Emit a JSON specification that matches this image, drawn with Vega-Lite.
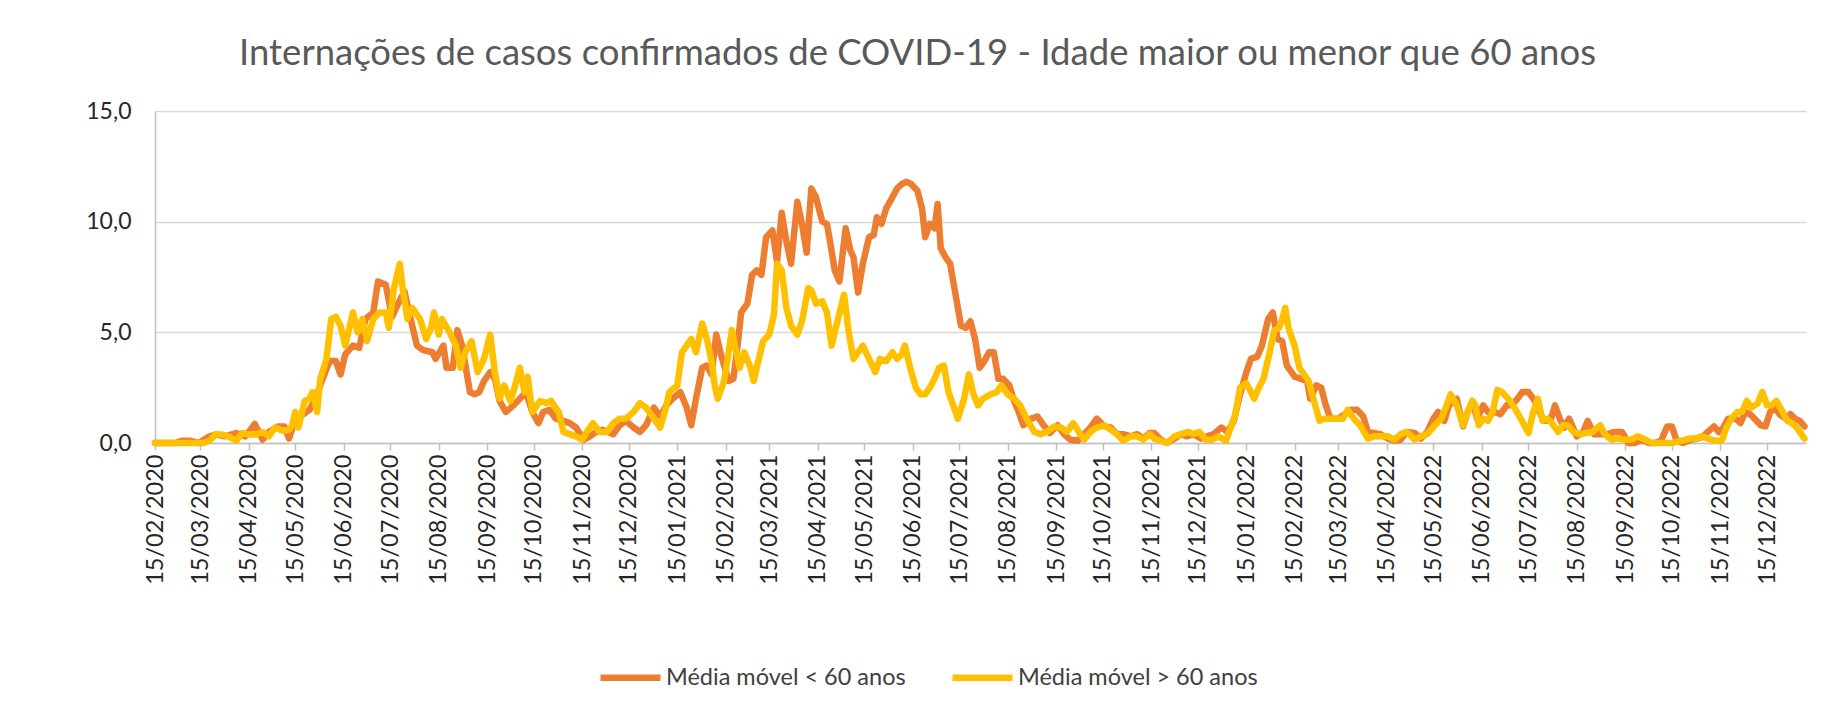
{
  "$schema": "https://vega.github.io/schema/vega-lite/v6.json",
  "width": 1651,
  "height": 332,
  "autosize": {"type": "none"},
  "padding": {"left": 155, "top": 111, "right": 29, "bottom": 272},
  "background": "white",
  "title": {
    "text": "Internações de casos confirmados de COVID-19 - Idade maior ou menor que 60 anos",
    "font": "Lato",
    "fontSize": 36.5,
    "fontWeight": "normal",
    "color": "#595959",
    "anchor": "middle",
    "dx": -63,
    "offset": 28
  },
  "datasets": {
    "a": [
      {"d":"2020-02-15","v":0},{"d":"2020-02-28","v":0},{"d":"2020-03-03","v":0.1},{"d":"2020-03-08","v":0.1},{"d":"2020-03-14","v":0},
      {"d":"2020-03-21","v":0.3},{"d":"2020-03-25","v":0.38},{"d":"2020-03-31","v":0.3},{"d":"2020-04-07","v":0.45},{"d":"2020-04-13","v":0.3},
      {"d":"2020-04-19","v":0.86},{"d":"2020-04-24","v":0.15},{"d":"2020-04-28","v":0.5},{"d":"2020-05-04","v":0.75},{"d":"2020-05-08","v":0.75},
      {"d":"2020-05-11","v":0.2},{"d":"2020-05-15","v":1.1},{"d":"2020-05-20","v":1.3},{"d":"2020-05-24","v":1.5},{"d":"2020-05-28","v":2.0},
      {"d":"2020-06-01","v":2.8},{"d":"2020-06-06","v":3.7},{"d":"2020-06-10","v":3.7},{"d":"2020-06-13","v":3.1},{"d":"2020-06-16","v":4.0},
      {"d":"2020-06-21","v":4.4},{"d":"2020-06-25","v":4.3},{"d":"2020-06-29","v":5.6},{"d":"2020-07-04","v":5.9},{"d":"2020-07-07","v":7.3},
      {"d":"2020-07-12","v":7.15},{"d":"2020-07-16","v":5.7},{"d":"2020-07-20","v":6.3},{"d":"2020-07-24","v":6.85},{"d":"2020-07-29","v":5.3},
      {"d":"2020-08-01","v":4.4},{"d":"2020-08-05","v":4.2},{"d":"2020-08-11","v":4.1},{"d":"2020-08-13","v":3.8},{"d":"2020-08-18","v":4.4},
      {"d":"2020-08-20","v":3.4},{"d":"2020-08-24","v":3.4},{"d":"2020-08-27","v":5.1},{"d":"2020-08-30","v":4.4},{"d":"2020-09-04","v":2.3},
      {"d":"2020-09-07","v":2.2},{"d":"2020-09-10","v":2.3},{"d":"2020-09-13","v":2.8},{"d":"2020-09-17","v":3.2},{"d":"2020-09-20","v":2.9},
      {"d":"2020-09-23","v":1.9},{"d":"2020-09-27","v":1.4},{"d":"2020-10-02","v":1.7},{"d":"2020-10-06","v":2.0},{"d":"2020-10-10","v":2.3},
      {"d":"2020-10-14","v":1.4},{"d":"2020-10-18","v":0.9},{"d":"2020-10-21","v":1.4},{"d":"2020-10-25","v":1.5},{"d":"2020-10-29","v":1.1},
      {"d":"2020-11-03","v":1.0},{"d":"2020-11-07","v":0.9},{"d":"2020-11-11","v":0.7},{"d":"2020-11-16","v":0.15},{"d":"2020-11-20","v":0.3},
      {"d":"2020-11-24","v":0.5},{"d":"2020-11-28","v":0.6},{"d":"2020-12-05","v":0.4},{"d":"2020-12-09","v":0.8},{"d":"2020-12-13","v":1.0},
      {"d":"2020-12-18","v":0.7},{"d":"2020-12-22","v":0.5},{"d":"2020-12-26","v":0.8},{"d":"2020-12-31","v":1.6},{"d":"2021-01-04","v":1.2},
      {"d":"2021-01-08","v":1.7},{"d":"2021-01-12","v":2.0},{"d":"2021-01-17","v":2.3},{"d":"2021-01-21","v":1.6},{"d":"2021-01-24","v":0.8},
      {"d":"2021-01-27","v":2.0},{"d":"2021-01-31","v":3.4},{"d":"2021-02-03","v":3.5},{"d":"2021-02-06","v":3.1},{"d":"2021-02-09","v":4.9},
      {"d":"2021-02-12","v":4.0},{"d":"2021-02-17","v":2.8},{"d":"2021-02-20","v":2.9},{"d":"2021-02-23","v":4.6},{"d":"2021-02-25","v":5.9},
      {"d":"2021-03-01","v":6.3},{"d":"2021-03-04","v":7.6},{"d":"2021-03-07","v":7.8},{"d":"2021-03-10","v":7.6},{"d":"2021-03-13","v":9.3},
      {"d":"2021-03-17","v":9.6},{"d":"2021-03-20","v":8.2},{"d":"2021-03-23","v":10.4},{"d":"2021-03-26","v":9.1},{"d":"2021-03-29","v":8.1},
      {"d":"2021-04-02","v":10.9},{"d":"2021-04-05","v":9.9},{"d":"2021-04-08","v":8.6},{"d":"2021-04-11","v":11.5},{"d":"2021-04-14","v":11.1},
      {"d":"2021-04-18","v":10.0},{"d":"2021-04-21","v":9.9},{"d":"2021-04-23","v":9.1},{"d":"2021-04-26","v":7.8},{"d":"2021-04-29","v":7.3},
      {"d":"2021-05-03","v":9.7},{"d":"2021-05-06","v":8.7},{"d":"2021-05-08","v":8.4},{"d":"2021-05-11","v":6.8},{"d":"2021-05-14","v":8.1},
      {"d":"2021-05-18","v":9.3},{"d":"2021-05-21","v":9.4},{"d":"2021-05-23","v":10.2},{"d":"2021-05-26","v":9.9},{"d":"2021-05-29","v":10.6},
      {"d":"2021-06-02","v":11.1},{"d":"2021-06-05","v":11.5},{"d":"2021-06-08","v":11.7},{"d":"2021-06-11","v":11.8},{"d":"2021-06-14","v":11.7},
      {"d":"2021-06-18","v":11.4},{"d":"2021-06-21","v":10.6},{"d":"2021-06-23","v":9.3},{"d":"2021-06-26","v":9.9},{"d":"2021-06-29","v":9.7},
      {"d":"2021-07-01","v":10.8},{"d":"2021-07-03","v":8.8},{"d":"2021-07-06","v":8.4},{"d":"2021-07-09","v":8.1},{"d":"2021-07-12","v":6.9},
      {"d":"2021-07-16","v":5.3},{"d":"2021-07-19","v":5.2},{"d":"2021-07-22","v":5.5},{"d":"2021-07-25","v":4.7},{"d":"2021-07-28","v":3.4},
      {"d":"2021-07-31","v":3.7},{"d":"2021-08-03","v":4.1},{"d":"2021-08-06","v":4.1},{"d":"2021-08-09","v":2.9},{"d":"2021-08-12","v":2.9},
      {"d":"2021-08-16","v":2.6},{"d":"2021-08-19","v":1.9},{"d":"2021-08-22","v":1.4},{"d":"2021-08-25","v":0.8},{"d":"2021-08-30","v":1.1},
      {"d":"2021-09-03","v":1.2},{"d":"2021-09-07","v":0.8},{"d":"2021-09-11","v":0.45},{"d":"2021-09-16","v":0.8},{"d":"2021-09-20","v":0.4},
      {"d":"2021-09-24","v":0.15},{"d":"2021-09-29","v":0.1},{"d":"2021-10-03","v":0.4},{"d":"2021-10-07","v":0.7},{"d":"2021-10-11","v":1.1},
      {"d":"2021-10-16","v":0.75},{"d":"2021-10-20","v":0.7},{"d":"2021-10-24","v":0.4},{"d":"2021-10-28","v":0.4},{"d":"2021-11-02","v":0.3},
      {"d":"2021-11-06","v":0.4},{"d":"2021-11-10","v":0.2},{"d":"2021-11-14","v":0.45},{"d":"2021-11-17","v":0.45},{"d":"2021-11-21","v":0.15},
      {"d":"2021-11-25","v":0},{"d":"2021-11-30","v":0.2},{"d":"2021-12-04","v":0.4},{"d":"2021-12-08","v":0.3},{"d":"2021-12-12","v":0.4},
      {"d":"2021-12-17","v":0.2},{"d":"2021-12-21","v":0.3},{"d":"2021-12-25","v":0.4},{"d":"2021-12-30","v":0.7},{"d":"2022-01-03","v":0.5},
      {"d":"2022-01-07","v":1.0},{"d":"2022-01-11","v":2.2},{"d":"2022-01-15","v":3.2},{"d":"2022-01-18","v":3.8},{"d":"2022-01-22","v":3.9},
      {"d":"2022-01-25","v":4.4},{"d":"2022-01-29","v":5.6},{"d":"2022-02-01","v":5.9},{"d":"2022-02-04","v":4.7},{"d":"2022-02-07","v":4.6},
      {"d":"2022-02-10","v":3.5},{"d":"2022-02-15","v":3.0},{"d":"2022-02-19","v":2.9},{"d":"2022-02-23","v":2.8},{"d":"2022-02-25","v":2.0},
      {"d":"2022-03-01","v":2.6},{"d":"2022-03-04","v":2.5},{"d":"2022-03-07","v":1.7},{"d":"2022-03-10","v":1.1},{"d":"2022-03-15","v":1.1},
      {"d":"2022-03-19","v":1.3},{"d":"2022-03-23","v":1.5},{"d":"2022-03-27","v":1.5},{"d":"2022-03-31","v":1.2},{"d":"2022-04-03","v":0.5},
      {"d":"2022-04-07","v":0.45},{"d":"2022-04-11","v":0.4},{"d":"2022-04-16","v":0.2},{"d":"2022-04-20","v":0.1},{"d":"2022-04-24","v":0.15},
      {"d":"2022-04-28","v":0.5},{"d":"2022-05-03","v":0.45},{"d":"2022-05-07","v":0.2},{"d":"2022-05-11","v":0.5},{"d":"2022-05-15","v":1.1},
      {"d":"2022-05-18","v":1.4},{"d":"2022-05-22","v":1.0},{"d":"2022-05-25","v":1.7},{"d":"2022-05-30","v":2.0},{"d":"2022-06-03","v":0.75},
      {"d":"2022-06-06","v":1.4},{"d":"2022-06-09","v":1.9},{"d":"2022-06-12","v":1.1},{"d":"2022-06-16","v":1.7},{"d":"2022-06-19","v":1.4},
      {"d":"2022-06-23","v":1.4},{"d":"2022-06-27","v":1.3},{"d":"2022-07-01","v":1.7},{"d":"2022-07-04","v":1.7},{"d":"2022-07-08","v":2.0},
      {"d":"2022-07-11","v":2.3},{"d":"2022-07-15","v":2.3},{"d":"2022-07-19","v":1.9},{"d":"2022-07-22","v":1.4},{"d":"2022-07-25","v":1.0},
      {"d":"2022-07-29","v":1.0},{"d":"2022-08-01","v":1.7},{"d":"2022-08-04","v":1.1},{"d":"2022-08-07","v":0.7},{"d":"2022-08-10","v":1.1},
      {"d":"2022-08-15","v":0.3},{"d":"2022-08-19","v":0.5},{"d":"2022-08-22","v":1.0},{"d":"2022-08-26","v":0.4},{"d":"2022-08-31","v":0.4},
      {"d":"2022-09-04","v":0.4},{"d":"2022-09-08","v":0.5},{"d":"2022-09-13","v":0.5},{"d":"2022-09-17","v":0},{"d":"2022-09-21","v":0},
      {"d":"2022-09-26","v":0.15},{"d":"2022-09-30","v":0},{"d":"2022-10-04","v":0},{"d":"2022-10-08","v":0.1},{"d":"2022-10-12","v":0.75},
      {"d":"2022-10-15","v":0.75},{"d":"2022-10-18","v":0.1},{"d":"2022-10-22","v":0},{"d":"2022-10-27","v":0.15},{"d":"2022-10-31","v":0.2},
      {"d":"2022-11-04","v":0.3},{"d":"2022-11-07","v":0.5},{"d":"2022-11-11","v":0.75},{"d":"2022-11-14","v":0.5},{"d":"2022-11-17","v":0.7},
      {"d":"2022-11-20","v":1.1},{"d":"2022-11-25","v":1.1},{"d":"2022-11-28","v":0.9},{"d":"2022-12-01","v":1.4},{"d":"2022-12-04","v":1.3},
      {"d":"2022-12-07","v":1.1},{"d":"2022-12-11","v":0.8},{"d":"2022-12-14","v":0.75},{"d":"2022-12-17","v":1.4},{"d":"2022-12-20","v":1.6},
      {"d":"2022-12-23","v":1.3},{"d":"2022-12-27","v":1.1},{"d":"2022-12-30","v":1.3},{"d":"2023-01-02","v":1.1},{"d":"2023-01-05","v":1.0},
      {"d":"2023-01-08","v":0.75}
    ],
    "b": [
      {"d":"2020-02-15","v":0},{"d":"2020-03-17","v":0},{"d":"2020-03-21","v":0.1},{"d":"2020-03-25","v":0.4},{"d":"2020-03-29","v":0.38},
      {"d":"2020-04-02","v":0.3},{"d":"2020-04-07","v":0.1},{"d":"2020-04-11","v":0.45},{"d":"2020-04-15","v":0.38},{"d":"2020-04-20","v":0.38},
      {"d":"2020-04-24","v":0.5},{"d":"2020-04-28","v":0.3},{"d":"2020-05-02","v":0.7},{"d":"2020-05-07","v":0.55},{"d":"2020-05-11","v":0.6},
      {"d":"2020-05-13","v":0.8},{"d":"2020-05-15","v":1.4},{"d":"2020-05-17","v":0.7},{"d":"2020-05-21","v":1.9},{"d":"2020-05-24","v":2.0},
      {"d":"2020-05-26","v":2.3},{"d":"2020-05-29","v":1.4},{"d":"2020-05-31","v":2.9},{"d":"2020-06-04","v":3.8},{"d":"2020-06-07","v":5.6},
      {"d":"2020-06-10","v":5.7},{"d":"2020-06-13","v":5.3},{"d":"2020-06-16","v":4.4},{"d":"2020-06-21","v":5.9},{"d":"2020-06-24","v":5.0},
      {"d":"2020-06-27","v":5.6},{"d":"2020-06-30","v":4.6},{"d":"2020-07-04","v":5.6},{"d":"2020-07-08","v":5.9},{"d":"2020-07-12","v":5.9},
      {"d":"2020-07-14","v":5.2},{"d":"2020-07-17","v":6.9},{"d":"2020-07-21","v":8.1},{"d":"2020-07-23","v":6.9},{"d":"2020-07-26","v":5.6},
      {"d":"2020-07-29","v":6.1},{"d":"2020-08-03","v":5.6},{"d":"2020-08-07","v":4.7},{"d":"2020-08-10","v":5.2},{"d":"2020-08-12","v":5.9},
      {"d":"2020-08-15","v":4.9},{"d":"2020-08-17","v":5.6},{"d":"2020-08-22","v":5.0},{"d":"2020-08-26","v":4.4},{"d":"2020-08-29","v":3.4},
      {"d":"2020-09-01","v":4.1},{"d":"2020-09-05","v":4.6},{"d":"2020-09-09","v":3.2},{"d":"2020-09-13","v":3.8},{"d":"2020-09-17","v":4.9},
      {"d":"2020-09-20","v":3.2},{"d":"2020-09-23","v":2.0},{"d":"2020-09-26","v":2.6},{"d":"2020-09-30","v":1.9},{"d":"2020-10-03","v":2.6},
      {"d":"2020-10-06","v":3.4},{"d":"2020-10-09","v":2.3},{"d":"2020-10-11","v":3.0},{"d":"2020-10-14","v":1.4},{"d":"2020-10-19","v":1.9},
      {"d":"2020-10-23","v":1.8},{"d":"2020-10-26","v":1.9},{"d":"2020-10-31","v":1.4},{"d":"2020-11-03","v":0.5},{"d":"2020-11-07","v":0.4},
      {"d":"2020-11-11","v":0.3},{"d":"2020-11-15","v":0.15},{"d":"2020-11-18","v":0.5},{"d":"2020-11-22","v":0.9},{"d":"2020-11-26","v":0.5},
      {"d":"2020-12-01","v":0.5},{"d":"2020-12-05","v":0.9},{"d":"2020-12-09","v":1.1},{"d":"2020-12-13","v":1.1},{"d":"2020-12-18","v":1.4},
      {"d":"2020-12-22","v":1.8},{"d":"2020-12-26","v":1.6},{"d":"2020-12-31","v":1.1},{"d":"2021-01-04","v":0.7},{"d":"2021-01-07","v":1.4},
      {"d":"2021-01-10","v":2.3},{"d":"2021-01-15","v":2.6},{"d":"2021-01-18","v":4.1},{"d":"2021-01-21","v":4.4},{"d":"2021-01-24","v":4.7},
      {"d":"2021-01-27","v":4.1},{"d":"2021-01-31","v":5.4},{"d":"2021-02-03","v":4.7},{"d":"2021-02-06","v":3.7},{"d":"2021-02-08","v":2.6},
      {"d":"2021-02-10","v":2.0},{"d":"2021-02-14","v":2.8},{"d":"2021-02-17","v":4.1},{"d":"2021-02-19","v":5.1},{"d":"2021-02-21","v":4.4},
      {"d":"2021-02-24","v":3.4},{"d":"2021-02-27","v":4.1},{"d":"2021-03-03","v":3.4},{"d":"2021-03-05","v":2.8},{"d":"2021-03-08","v":3.7},
      {"d":"2021-03-11","v":4.6},{"d":"2021-03-15","v":4.9},{"d":"2021-03-18","v":5.8},{"d":"2021-03-20","v":8.1},{"d":"2021-03-23","v":7.8},
      {"d":"2021-03-26","v":6.1},{"d":"2021-03-29","v":5.3},{"d":"2021-04-02","v":4.9},{"d":"2021-04-05","v":5.5},{"d":"2021-04-09","v":7.0},
      {"d":"2021-04-11","v":6.9},{"d":"2021-04-14","v":6.3},{"d":"2021-04-18","v":6.4},{"d":"2021-04-21","v":5.9},{"d":"2021-04-24","v":4.4},
      {"d":"2021-04-27","v":5.3},{"d":"2021-05-02","v":6.7},{"d":"2021-05-05","v":5.0},{"d":"2021-05-08","v":3.8},{"d":"2021-05-11","v":4.1},
      {"d":"2021-05-14","v":4.4},{"d":"2021-05-18","v":3.8},{"d":"2021-05-22","v":3.2},{"d":"2021-05-25","v":3.8},{"d":"2021-05-29","v":3.7},
      {"d":"2021-06-02","v":4.1},{"d":"2021-06-05","v":3.8},{"d":"2021-06-08","v":4.0},{"d":"2021-06-10","v":4.4},{"d":"2021-06-13","v":3.5},
      {"d":"2021-06-17","v":2.5},{"d":"2021-06-20","v":2.2},{"d":"2021-06-23","v":2.2},{"d":"2021-06-26","v":2.5},{"d":"2021-06-29","v":2.9},
      {"d":"2021-07-02","v":3.4},{"d":"2021-07-05","v":3.5},{"d":"2021-07-08","v":2.3},{"d":"2021-07-11","v":1.7},{"d":"2021-07-14","v":1.1},
      {"d":"2021-07-18","v":2.0},{"d":"2021-07-21","v":3.1},{"d":"2021-07-24","v":2.2},{"d":"2021-07-27","v":1.7},{"d":"2021-07-30","v":2.0},
      {"d":"2021-08-04","v":2.2},{"d":"2021-08-08","v":2.3},{"d":"2021-08-11","v":2.6},{"d":"2021-08-15","v":2.2},{"d":"2021-08-19","v":2.0},
      {"d":"2021-08-23","v":1.7},{"d":"2021-08-27","v":1.1},{"d":"2021-09-01","v":0.5},{"d":"2021-09-05","v":0.4},{"d":"2021-09-09","v":0.5},
      {"d":"2021-09-14","v":0.75},{"d":"2021-09-18","v":0.7},{"d":"2021-09-22","v":0.5},{"d":"2021-09-26","v":0.9},{"d":"2021-09-30","v":0.45},
      {"d":"2021-10-03","v":0.15},{"d":"2021-10-07","v":0.5},{"d":"2021-10-11","v":0.7},{"d":"2021-10-16","v":0.8},{"d":"2021-10-20","v":0.6},
      {"d":"2021-10-24","v":0.4},{"d":"2021-10-28","v":0.1},{"d":"2021-11-02","v":0.3},{"d":"2021-11-06","v":0.3},{"d":"2021-11-10","v":0.15},
      {"d":"2021-11-14","v":0.4},{"d":"2021-11-17","v":0.2},{"d":"2021-11-21","v":0.1},{"d":"2021-11-25","v":0},{"d":"2021-11-30","v":0.3},
      {"d":"2021-12-04","v":0.4},{"d":"2021-12-09","v":0.5},{"d":"2021-12-12","v":0.4},{"d":"2021-12-16","v":0.5},{"d":"2021-12-20","v":0.15},
      {"d":"2021-12-24","v":0.15},{"d":"2021-12-28","v":0.3},{"d":"2022-01-02","v":0.1},{"d":"2022-01-05","v":0.7},{"d":"2022-01-08","v":1.3},
      {"d":"2022-01-11","v":2.5},{"d":"2022-01-15","v":2.7},{"d":"2022-01-18","v":2.3},{"d":"2022-01-20","v":2.0},{"d":"2022-01-23","v":2.5},
      {"d":"2022-01-26","v":2.9},{"d":"2022-01-30","v":4.1},{"d":"2022-02-02","v":5.1},{"d":"2022-02-05","v":5.2},{"d":"2022-02-07","v":5.6},
      {"d":"2022-02-09","v":6.1},{"d":"2022-02-11","v":5.2},{"d":"2022-02-15","v":4.4},{"d":"2022-02-18","v":3.4},{"d":"2022-02-21","v":3.1},
      {"d":"2022-02-24","v":2.8},{"d":"2022-02-27","v":2.0},{"d":"2022-03-03","v":1.0},{"d":"2022-03-06","v":1.1},{"d":"2022-03-10","v":1.1},
      {"d":"2022-03-15","v":1.1},{"d":"2022-03-18","v":1.1},{"d":"2022-03-21","v":1.5},{"d":"2022-03-25","v":1.1},{"d":"2022-03-29","v":0.8},
      {"d":"2022-04-03","v":0.2},{"d":"2022-04-07","v":0.3},{"d":"2022-04-11","v":0.3},{"d":"2022-04-16","v":0.3},{"d":"2022-04-20","v":0.15},
      {"d":"2022-04-24","v":0.4},{"d":"2022-04-28","v":0.5},{"d":"2022-05-03","v":0.15},{"d":"2022-05-07","v":0.3},{"d":"2022-05-11","v":0.4},
      {"d":"2022-05-16","v":0.8},{"d":"2022-05-20","v":1.1},{"d":"2022-05-23","v":1.6},{"d":"2022-05-26","v":2.2},{"d":"2022-05-30","v":1.7},
      {"d":"2022-06-03","v":0.8},{"d":"2022-06-06","v":1.4},{"d":"2022-06-09","v":1.9},{"d":"2022-06-11","v":1.7},{"d":"2022-06-13","v":0.8},
      {"d":"2022-06-16","v":1.1},{"d":"2022-06-19","v":1.0},{"d":"2022-06-22","v":1.4},{"d":"2022-06-25","v":2.4},{"d":"2022-06-28","v":2.3},
      {"d":"2022-07-02","v":2.0},{"d":"2022-07-06","v":1.6},{"d":"2022-07-10","v":1.1},{"d":"2022-07-15","v":0.45},{"d":"2022-07-18","v":1.4},
      {"d":"2022-07-21","v":2.0},{"d":"2022-07-24","v":1.0},{"d":"2022-07-27","v":1.1},{"d":"2022-07-30","v":0.9},{"d":"2022-08-03","v":0.5},
      {"d":"2022-08-06","v":0.8},{"d":"2022-08-09","v":0.8},{"d":"2022-08-13","v":0.5},{"d":"2022-08-17","v":0.4},{"d":"2022-08-21","v":0.45},
      {"d":"2022-08-25","v":0.5},{"d":"2022-08-30","v":0.8},{"d":"2022-09-02","v":0.4},{"d":"2022-09-06","v":0.15},{"d":"2022-09-10","v":0.2},
      {"d":"2022-09-15","v":0.15},{"d":"2022-09-19","v":0.15},{"d":"2022-09-23","v":0.3},{"d":"2022-09-28","v":0.15},{"d":"2022-10-02","v":0},
      {"d":"2022-10-08","v":0},{"d":"2022-10-15","v":0},{"d":"2022-10-21","v":0.1},{"d":"2022-10-26","v":0.2},{"d":"2022-10-30","v":0.2},
      {"d":"2022-11-03","v":0.3},{"d":"2022-11-07","v":0.2},{"d":"2022-11-12","v":0.1},{"d":"2022-11-16","v":0.1},{"d":"2022-11-19","v":0.7},
      {"d":"2022-11-22","v":1.1},{"d":"2022-11-26","v":1.4},{"d":"2022-11-29","v":1.4},{"d":"2022-12-02","v":1.9},{"d":"2022-12-05","v":1.6},
      {"d":"2022-12-09","v":1.8},{"d":"2022-12-12","v":2.3},{"d":"2022-12-15","v":1.7},{"d":"2022-12-18","v":1.7},{"d":"2022-12-21","v":1.9},
      {"d":"2022-12-25","v":1.4},{"d":"2022-12-28","v":1.0},{"d":"2022-12-31","v":0.9},{"d":"2023-01-03","v":0.7},{"d":"2023-01-06","v":0.4},
      {"d":"2023-01-08","v":0.2}
    ]
  },
  "encoding": {
    "x": {
      "field": "d",
      "type": "temporal",
      "scale": {
        "type": "utc",
        "domain": [{"year": 2020, "month": 2, "date": 15, "utc": true}, {"year": 2023, "month": 1, "date": 9, "utc": true}]
      },
      "axis": {
        "title": null,
        "values": [
          {"year":2020,"month":2,"date":15,"utc":true},{"year":2020,"month":3,"date":15,"utc":true},{"year":2020,"month":4,"date":15,"utc":true},
          {"year":2020,"month":5,"date":15,"utc":true},{"year":2020,"month":6,"date":15,"utc":true},{"year":2020,"month":7,"date":15,"utc":true},
          {"year":2020,"month":8,"date":15,"utc":true},{"year":2020,"month":9,"date":15,"utc":true},{"year":2020,"month":10,"date":15,"utc":true},
          {"year":2020,"month":11,"date":15,"utc":true},{"year":2020,"month":12,"date":15,"utc":true},{"year":2021,"month":1,"date":15,"utc":true},
          {"year":2021,"month":2,"date":15,"utc":true},{"year":2021,"month":3,"date":15,"utc":true},{"year":2021,"month":4,"date":15,"utc":true},
          {"year":2021,"month":5,"date":15,"utc":true},{"year":2021,"month":6,"date":15,"utc":true},{"year":2021,"month":7,"date":15,"utc":true},
          {"year":2021,"month":8,"date":15,"utc":true},{"year":2021,"month":9,"date":15,"utc":true},{"year":2021,"month":10,"date":15,"utc":true},
          {"year":2021,"month":11,"date":15,"utc":true},{"year":2021,"month":12,"date":15,"utc":true},{"year":2022,"month":1,"date":15,"utc":true},
          {"year":2022,"month":2,"date":15,"utc":true},{"year":2022,"month":3,"date":15,"utc":true},{"year":2022,"month":4,"date":15,"utc":true},
          {"year":2022,"month":5,"date":15,"utc":true},{"year":2022,"month":6,"date":15,"utc":true},{"year":2022,"month":7,"date":15,"utc":true},
          {"year":2022,"month":8,"date":15,"utc":true},{"year":2022,"month":9,"date":15,"utc":true},{"year":2022,"month":10,"date":15,"utc":true},
          {"year":2022,"month":11,"date":15,"utc":true},{"year":2022,"month":12,"date":15,"utc":true}
        ],
        "format": "%d/%m/%Y",
        "labelAngle": -90,
        "labelFont": "Lato",
        "labelFontSize": 23.5,
        "labelColor": "#262626",
        "labelPadding": 4,
        "labelOverlap": false,
        "labelFlush": false,
        "grid": false,
        "ticks": true,
        "tickSize": 7,
        "tickColor": "#BFBFBF",
        "tickWidth": 1.5,
        "domain": true,
        "domainColor": "#BFBFBF",
        "domainWidth": 1.5
      }
    },
    "y": {
      "field": "v",
      "type": "quantitative",
      "scale": {"domain": [0, 15], "nice": false},
      "axis": {
        "title": null,
        "values": [0, 5, 10, 15],
        "labelExpr": "replace(format(datum.value, '.1f'), '.', ',')",
        "labelFont": "Lato",
        "labelFontSize": 23,
        "labelColor": "#262626",
        "labelPadding": 24,
        "ticks": false,
        "grid": true,
        "gridColor": "#D9D9D9",
        "gridWidth": 1.5,
        "domain": true,
        "domainColor": "#BFBFBF",
        "domainWidth": 1.5
      }
    }
  },
  "layer": [
    {
      "data": {"name": "a"},
      "mark": {"type": "line", "strokeWidth": 6.5, "strokeJoin": "round", "strokeCap": "round"},
      "encoding": {
        "color": {
          "datum": "Média móvel < 60 anos",
          "type": "nominal",
          "scale": {"domain": ["Média móvel < 60 anos", "Média móvel > 60 anos"], "range": ["#ED7D31", "#FFC000"]},
          "legend": {
            "orient": "none",
            "legendX": 442,
            "legendY": 533,
            "direction": "horizontal",
            "title": null,
            "symbolType": "stroke",
            "symbolStrokeWidth": 6.5,
            "symbolSize": 3600,
            "labelFont": "Lato",
            "labelFontSize": 23.5,
            "labelLimit": 500,
            "labelColor": "#404040",
            "labelOffset": 2,
            "columnPadding": 33
          }
        }
      }
    },
    {
      "data": {"name": "b"},
      "mark": {"type": "line", "strokeWidth": 6.5, "strokeJoin": "round", "strokeCap": "round"},
      "encoding": {
        "color": {"datum": "Média móvel > 60 anos", "type": "nominal"}
      }
    }
  ],
  "config": {
    "view": {"stroke": null},
    "font": "Lato"
  }
}
